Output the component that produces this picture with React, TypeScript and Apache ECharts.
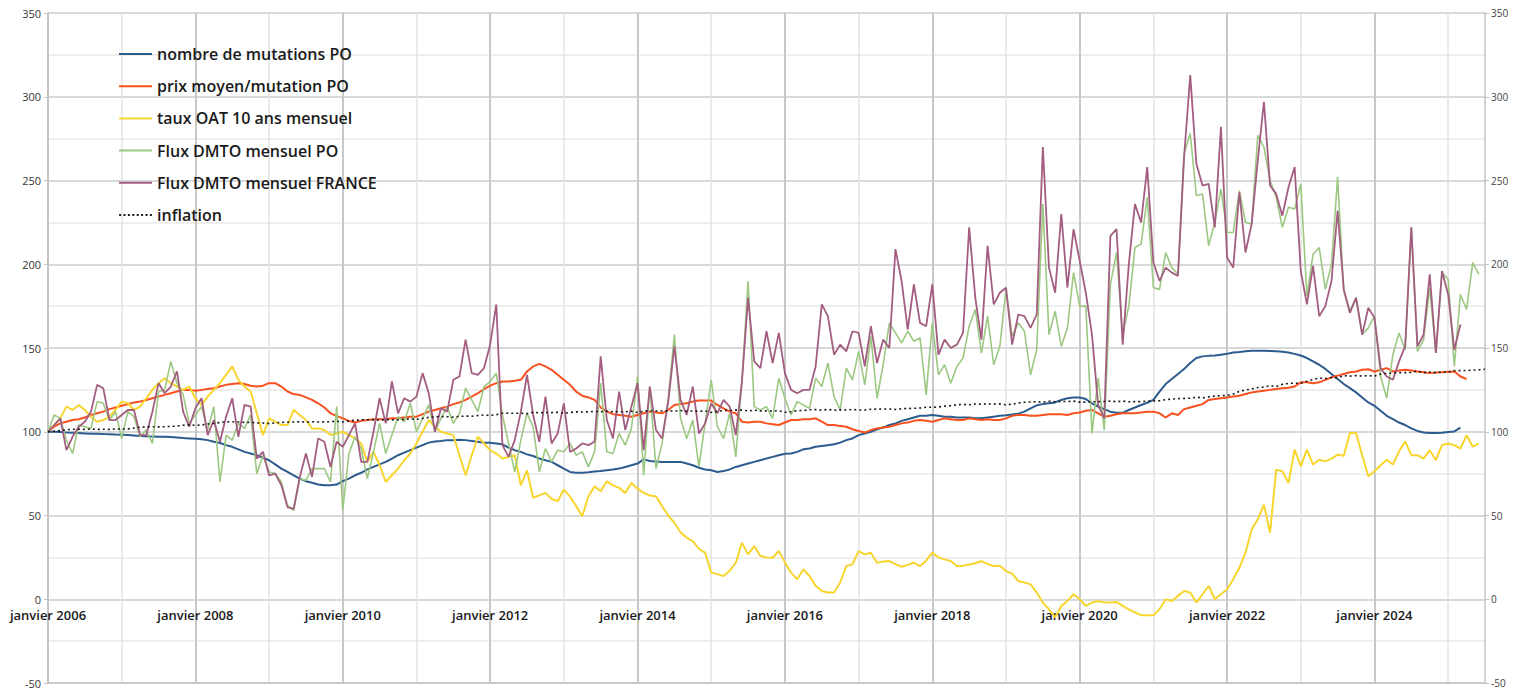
import React, { useEffect, useRef } from "react";
import * as echarts from "echarts";

const MONTHS_FR = ["janvier", "février", "mars", "avril", "mai", "juin", "juillet", "août", "septembre", "octobre", "novembre", "décembre"];
const START_YEAR = 2006;
const N_MONTHS = 235; // janvier 2006 .. juillet 2025
const CATEGORIES: string[] = [];
for (let i = 0; i < N_MONTHS; i++) CATEGORIES.push(MONTHS_FR[i % 12] + " " + (START_YEAR + Math.floor(i / 12)));

const NOMBRE_MUTATIONS_PO = [
  100, 100, 99.8, 99.5, 99.4, 99.2, 99, 98.8, 98.8, 98.6, 98.5, 98.3,
  98.2, 98, 97.8, 97.5, 97.3, 97.2, 97, 97, 96.8, 96.5, 96.2, 96,
  95.8, 95.5, 95, 94, 93.3, 92, 91, 89.5, 88, 87, 86, 84.5,
  83, 80.5, 78, 76, 74, 72, 70.5, 69.5, 68.5, 68, 68, 68.5,
  70.5, 72, 74, 75.5, 77.5, 79, 80.5, 82, 84, 86, 87.5, 89,
  90.5, 92, 93.5, 94.2, 94.5, 95, 95, 95.2, 95, 94.5, 94, 93.5,
  93.5, 93, 92.5, 90.5, 89, 88, 86.5, 85.5, 84, 83, 82, 80,
  78, 76, 75.5, 75.5, 75.8, 76.2, 76.5, 77, 77.4, 78, 79, 80,
  81, 83.5, 82.5, 82.3, 82, 82, 82, 82, 81, 80, 78.5, 77.5,
  77, 76, 76.5, 77.5, 79, 80, 81, 82, 83, 84, 85, 86,
  86.9, 87, 88, 89.5, 90, 91, 91.5, 92, 92.5, 93.5, 95, 96,
  98, 99, 100, 101.5, 102.5, 104, 105, 106.5, 107.5, 108.5, 109.5, 109.5,
  110, 109.5, 109, 109, 108.5, 108.5, 108.5, 108, 108, 108.5, 109, 109.5,
  109.8, 110.3, 110.8, 112, 114, 115.8, 116.5, 117, 117.5, 119, 120, 120.5,
  120.5, 119.5, 117, 115, 113.5, 112, 111.3, 111.3, 113, 114.5, 116, 117.3,
  119, 124, 128.5, 131.5, 134.5, 137.5, 141, 144, 145, 145.3, 145.5, 146,
  146.5, 147.3, 147.6, 148, 148.3, 148.4, 148.3, 148.2, 148, 147.8, 147.3, 146.5,
  145.5, 144, 142, 140, 137.5, 134.5, 131.5, 128.5, 126, 123.5, 120.5, 117.5,
  115.5, 112.5, 109.5, 107.5, 105.5, 104, 102, 100.5, 99.5, 99.2, 99.2, 99.4,
  99.8, 100.2, 102.5
];

const PRIX_MOYEN_PO = [
  100, 103, 105, 106, 107, 107.5, 108.5, 110, 111, 112, 113.5, 114.5,
  115.5, 116.5, 117.5, 118, 119, 120, 121, 122, 123, 124, 125, 125,
  124.5, 125, 125.5, 126, 127, 128, 128.5, 129, 128.5, 127.5, 127, 127.5,
  129, 129, 127, 124, 122.5, 122, 120.5, 119, 117, 114.5, 111, 109.5,
  108, 106.5, 105.5, 106.5, 107, 107.5, 107.5, 107.5, 108, 108, 108.5, 109,
  109, 110.5, 112, 113, 114, 115, 116.5, 117.5, 119, 121, 123, 125.5,
  127.5, 129, 130, 130, 130.5, 131, 136, 139, 140.5, 139, 137, 134,
  131, 128, 124, 121.5, 120.5, 119, 114.5, 112, 110.5, 110, 109.5, 109,
  110, 111, 112, 111.5, 111, 113, 116, 116.5, 117, 118, 118.6, 118.6,
  118.6, 116, 114, 112, 111, 106, 105.5, 106, 106, 105, 104.5, 104,
  105.5, 107, 107, 107.5, 107.5, 108, 106, 104, 104, 103.5, 103, 101.5,
  100.5, 99.5, 101, 102, 102.5, 103, 104, 105, 105.5, 106.5, 107, 106.5,
  106, 107, 108, 107.5, 107, 107, 108, 107.5, 107, 107.5, 107, 107,
  108, 109.5, 110, 110, 109.5, 109.5, 110, 110.5, 110.5, 110.5, 110, 111,
  111.5, 112.5, 113, 111, 109, 109.5, 110.5, 111, 111, 111, 111.5, 112,
  112, 111, 108.5, 111, 110, 113.5, 114.5, 115.5, 116.5, 119, 119.5, 120,
  120.5, 121, 121.5, 122.5, 123.5, 124, 124.5, 125, 125.5, 126, 126.3, 127,
  129.5, 129.5, 129, 129.5, 131, 132.5, 133.5, 134.5, 135.5, 136, 137, 137.3,
  136, 137, 138, 136, 136.5, 137, 136.5, 136, 135.5, 135, 135.3, 135.5,
  135.8, 136, 133, 131.5
];

const TAUX_OAT_10ANS = [
  100, 104, 108, 115, 113, 116, 113, 109, 106, 107, 109, 113,
  118, 117, 113, 115, 120, 125, 129, 132, 129, 127, 125, 127,
  120, 116, 121, 125, 129, 134, 139, 131, 127, 124, 111, 98,
  108, 106, 104, 104, 113, 110, 107, 102, 102, 101, 98, 99,
  100, 98, 96, 93, 82, 88, 80, 70, 74, 78, 83, 87,
  93, 100, 107, 103, 100, 99, 98, 86, 74, 86, 97, 93,
  89, 87, 84, 85, 86, 68, 77, 60.5, 62, 63.5, 60, 58.5,
  65.5, 61.3, 55.6, 49.6, 61.5, 67.4, 64.5, 70.4, 68, 66.5, 63.5, 69.4,
  66, 63.5, 62, 61.5, 55.6, 50, 45.6, 40, 36.7, 34.7, 30, 27.8,
  15.9, 15, 13.9, 17, 21.8, 33.7, 26.8, 31.7, 25.8, 25, 24.8, 28.8,
  22, 15.9, 11.9, 17.9, 13.9, 8, 4.9, 4, 4, 10, 19.8, 20.8,
  28.8, 26.8, 27.8, 21.8, 22.5, 22.8, 21, 19.4, 20.5, 21.8, 19.8, 23,
  27.8, 25, 23.8, 22.8, 19.8, 20, 20.8, 21.5, 22.8, 21, 19.8, 20,
  16.8, 15.3, 10.9, 10, 8.9, 4, -2, -6, -10.9, -4, -1, 3,
  0, -4, -2, -1, -2, -2, -1.6, -4, -6, -7.9, -9.5, -9.5,
  -9.5, -6, 0, -1, 2, 4.9, 4, -2, 3, 7.9, 0, 3,
  6, 11.9, 18.8, 27.8, 41.7, 47.6, 56.5, 39.7, 77.4, 76.4, 69.4, 89.3,
  79.4, 89.3, 80.4, 83.3, 82.3, 84, 86.3, 85.7, 99.2, 99.2, 86, 73.4,
  76.4, 80, 83.3, 80.4, 88.3, 94.2, 86, 86, 84, 89, 83, 92,
  93, 92, 90, 98, 91, 93
];

const FLUX_DMTO_PO = [
  100, 110, 108, 95, 87, 104, 103, 102, 118, 117, 107, 112,
  96, 112, 109, 97, 101, 93, 124, 125, 142, 129, 122, 105,
  110, 115, 101, 115, 70, 98, 95, 105, 102, 110, 75, 86,
  76, 75, 70, 56, 53, 72, 71, 78, 78, 78, 70, 115,
  53, 87, 97, 90, 72, 88, 105, 87, 98, 109, 106, 117,
  100, 108, 116, 100, 108, 115, 105, 111, 126, 119, 112, 127,
  130, 135, 110, 93, 76, 95, 111, 103, 76, 90, 82, 89,
  88, 93, 86, 88, 79, 88, 129, 88, 87, 99, 92, 102,
  133, 74, 127, 78, 93, 120, 158, 108, 96, 107, 79, 105,
  131, 103, 96, 111, 85, 130, 190, 115, 113, 115, 108, 132,
  120, 110, 118, 116, 114, 132, 127, 141, 121, 113, 138, 131,
  148, 128, 157, 120, 140, 165, 159, 153, 160, 154, 156, 122,
  165, 134, 140, 129, 139, 144, 163, 173, 147, 169, 140, 151,
  185, 157, 165, 160, 134, 149, 236, 158, 172, 151, 162, 195,
  175, 175, 99, 132, 101, 188, 207, 158, 175, 210, 212, 240,
  186, 185, 207, 198, 194, 266, 278, 241, 242, 211, 225, 245,
  219, 219, 244, 225, 224, 277, 270, 250, 240, 222, 234, 233,
  248, 181, 206, 210, 185, 200, 252, 184, 172, 180, 158, 162,
  169, 133, 120, 146, 159, 149, 222, 148, 155, 186, 147, 195,
  191, 139, 182, 173, 201, 194
];

const FLUX_DMTO_FRANCE = [
  100, 104, 108, 89, 97, 103, 106, 112, 128, 126, 107, 107,
  110, 113, 113, 98, 98, 112, 129, 123, 127, 136, 112, 103,
  114, 120, 98, 107, 94, 109, 120, 97, 116, 115, 84, 88,
  74, 75, 68, 55, 54, 73, 87, 73, 96, 94, 79, 94,
  91, 98, 105, 82, 82, 100, 120, 105, 130, 111, 120, 118,
  121, 135, 123, 100, 114, 112, 131, 133, 155, 135, 134, 138,
  152, 176, 92, 85, 95, 112, 134, 110, 94, 121, 93, 99,
  117, 88, 90, 93, 92, 94, 145, 107, 96, 124, 101, 115,
  129, 89, 127, 101, 96, 118, 151, 119, 110, 127, 99, 105,
  117, 111, 119, 115, 98, 130, 180, 142, 138, 160, 141, 159,
  135, 125, 123, 125, 125, 139, 176, 169, 146, 152, 148, 160,
  159, 139, 163, 141, 155, 150, 209, 190, 161, 188, 165, 163,
  188, 146, 155, 150, 152, 159, 222, 180, 155, 211, 176, 183,
  186, 152, 170, 169, 162, 170, 270, 198, 183, 230, 186, 221,
  202, 183, 158, 116, 108, 217, 221, 152, 200, 236, 225, 258,
  201, 190, 198, 195, 193, 264, 313, 260, 247, 248, 222, 282,
  204, 198, 243, 207, 224, 262, 297, 247, 242, 229, 246, 258,
  196, 176, 199, 169, 175, 190, 232, 185, 171, 180, 158, 174,
  168, 138, 133, 131, 142, 151, 222, 151, 158, 194, 147, 196,
  182, 149, 164
];

const INFLATION = [
  100, 100.3, 100.7, 101.2, 101.5, 101.6, 101.4, 101.6, 101.4, 101.5, 101.4, 101.7,
  101.5, 101.7, 102.2, 102.7, 102.9, 103, 102.9, 103, 103.2, 103.4, 103.9, 104.2,
  103.8, 104, 104.6, 105, 105.5, 105.9, 106, 105.8, 105.6, 105.6, 105.3, 105.2,
  104.9, 105.3, 105.6, 105.7, 105.8, 106, 105.7, 106, 105.8, 105.9, 106, 106.3,
  105.8, 106.4, 106.9, 107.1, 107.2, 107.1, 107, 107.3, 107.1, 107.2, 107.4, 107.7,
  107.4, 108, 108.6, 108.9, 109.1, 109, 108.7, 109.2, 109.3, 109.3, 109.7, 110,
  109.7, 110.2, 111, 111.1, 111, 111.1, 110.8, 111.6, 111.3, 111.5, 111.4, 111.6,
  111.1, 111.5, 111.9, 111.8, 111.9, 112.1, 111.9, 112.3, 111.9, 112, 111.9, 112.3,
  111.5, 112.2, 112.6, 112.4, 112.4, 112.5, 112.3, 112.7, 112.3, 112.4, 112.2, 112.4,
  111.5, 112.1, 112.7, 112.8, 112.9, 112.9, 112.4, 112.9, 112.4, 112.5, 112.3, 112.6,
  111.6, 111.9, 112.6, 112.7, 113.1, 113.2, 112.9, 113.3, 112.9, 113.1, 113, 113.3,
  113, 113, 113.4, 113.5, 113.6, 113.6, 113.3, 113.7, 113.9, 114, 114.2, 114.6,
  114.6, 114.8, 115.3, 115.6, 116.1, 116.3, 116.1, 116.6, 116.4, 116.6, 116.5, 116.7,
  116.1, 116.4, 117.2, 117.6, 117.8, 117.9, 117.7, 118.2, 117.9, 118.1, 118, 118.3,
  117.7, 117.7, 117.9, 118, 118.1, 118.3, 117.9, 118.3, 117.9, 118, 118, 118.3,
  118.4, 118.5, 119.2, 119.5, 119.8, 119.9, 120, 120.6, 120.2, 120.8, 121.3, 121.5,
  121.7, 122.5, 124.1, 124.9, 125.5, 126.4, 126.7, 127.5, 126.9, 128.4, 128.9, 129,
  128.9, 130.1, 131.2, 132, 131.8, 132.4, 132.3, 133.5, 133.2, 133.5, 133.3, 133.5,
  133.2, 134.4, 134.8, 135.2, 135.3, 135.3, 135.4, 136.2, 135.3, 135.7, 135.3, 135.8,
  135.5, 136.5, 136.5, 136.6, 136.8, 137, 137.3
];

const SERIES_NAMES = [
  "nombre de mutations PO",
  "prix moyen/mutation PO",
  "taux OAT 10 ans mensuel",
  "Flux DMTO mensuel PO",
  "Flux DMTO mensuel FRANCE",
  "inflation",
];

const ICON_SOLID = "path://M0,0H33V2H0Z";
const ICON_DOTTED =
  "path://M0,0h2v2h-2z M4.4,0h2v2h-2z M8.8,0h2v2h-2z M13.2,0h2v2h-2z M17.6,0h2v2h-2z M22,0h2v2h-2z M26.4,0h2v2h-2z M30.8,0h2v2h-2z";

export default function App() {
  const ref = useRef<HTMLDivElement>(null);
  useEffect(() => {
    document.body.style.margin = "0";
    if (!ref.current) return;
    const chart = echarts.init(ref.current, undefined, { renderer: "svg" });
    const line = (name: string, data: number[], color: string, width: number, type: any = "solid", z = 2) => ({
      name,
      type: "line",
      data,
      symbol: "none",
      showSymbol: false,
      z,
      lineStyle: { color, width, type },
      itemStyle: { color },
    });
    chart.setOption({
      animation: false,
      backgroundColor: "#ffffff",
      textStyle: { fontFamily: "Open Sans" },
      grid: { left: 48, right: 37, top: 13, bottom: 7, containLabel: false },
      legend: {
        data: SERIES_NAMES.map((n, i) => ({ name: n, icon: i === 5 ? ICON_DOTTED : ICON_SOLID })),
        orient: "vertical",
        left: 119,
        top: 46,
        padding: 0,
        itemWidth: 33,
        itemHeight: 2,
        itemGap: 16.2,
        textStyle: { fontSize: 16, color: "#1a1a1a", fontFamily: "Open Sans", fontWeight: 600 },
      },
      xAxis: [
        {
          type: "category",
          data: CATEGORIES,
          boundaryGap: false,
          axisLine: { show: true, onZero: false, lineStyle: { color: "#c4c4c4", width: 1.5 } },
          axisTick: { show: false },
          axisLabel: { interval: 23, fontSize: 13, lineHeight: 13, color: "#1a1a1a", fontWeight: 600, margin: -75, fontFamily: "Open Sans" },
          splitLine: { show: true, interval: 11, lineStyle: { color: "#e3e3e3", width: 1.5 } },
        },
        {
          type: "category",
          data: CATEGORIES,
          boundaryGap: false,
          position: "bottom",
          axisLine: { show: false, onZero: false },
          axisTick: { show: false },
          axisLabel: { show: false },
          splitLine: { show: true, interval: 23, lineStyle: { color: "#c8c8c8", width: 2 } },
        },
      ],
      yAxis: [
        {
          type: "value",
          min: -50,
          max: 350,
          interval: 50,
          position: "left",
          axisLine: { show: true, onZero: false, lineStyle: { color: "#c4c4c4", width: 1.5 } },
          axisTick: { show: true, length: 4, lineStyle: { color: "#c4c4c4" } },
          axisLabel: { fontSize: 11, lineHeight: 11, color: "#333333", margin: 7 },
          splitLine: { show: true, lineStyle: { color: "#cdcdcd", width: 1.5 } },
          minorTick: { show: false, splitNumber: 2 },
          minorSplitLine: { show: true, lineStyle: { color: "#e8e8e8", width: 1.5 } },
        },
        {
          type: "value",
          min: -50,
          max: 350,
          interval: 50,
          position: "right",
          axisLine: { show: true, onZero: false, lineStyle: { color: "#c4c4c4", width: 1.5 } },
          axisTick: { show: true, length: 4, lineStyle: { color: "#c4c4c4" } },
          axisLabel: { fontSize: 10, color: "#444444", margin: 6 },
          splitLine: { show: false },
        },
      ],
      series: [
        line(SERIES_NAMES[0], NOMBRE_MUTATIONS_PO, "#2c5b8e", 2),
        line(SERIES_NAMES[1], PRIX_MOYEN_PO, "#f8501e", 2),
        line(SERIES_NAMES[2], TAUX_OAT_10ANS, "#f8d52e", 2),
        line(SERIES_NAMES[3], FLUX_DMTO_PO, "#9cc882", 1.6),
        line(SERIES_NAMES[4], FLUX_DMTO_FRANCE, "#a35d80", 1.8),
        line(SERIES_NAMES[5], INFLATION, "#1a1a1a", 1.6, [2, 3]),
      ],
    });
    return () => chart.dispose();
  }, []);
  return <div ref={ref} style={{ width: 1522, height: 690 }} />;
}
